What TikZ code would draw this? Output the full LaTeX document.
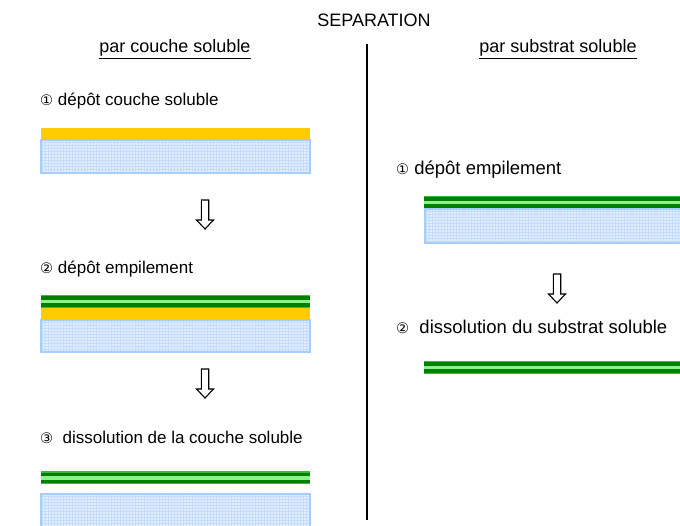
\documentclass[tikz,border=0pt]{standalone}
\usepackage{fontspec}
\setmainfont{Liberation Sans}
\newfontfamily\dv{DejaVu Sans}
\usetikzlibrary{patterns}
\definecolor{yel}{HTML}{FFCC00}
\definecolor{bfill}{HTML}{E2EEFF}
\definecolor{bgrid}{HTML}{C4DDFF}
\definecolor{bedge}{HTML}{A3CEFF}
\definecolor{gmid}{HTML}{3CB83C}
\definecolor{gdark}{HTML}{008000}
\definecolor{glight}{HTML}{8CF08C}
\newcommand{\circnum}[1]{{\dv\fontsize{14.5}{16}\selectfont #1}}
\tikzset{
  lbl/.style={anchor=base west, inner sep=0, font=\fontsize{17}{19}\selectfont},
  rlbl/.style={anchor=base west, inner sep=0, font=\fontsize{18.5}{21}\selectfont},
  head/.style={anchor=base, inner sep=0, font=\fontsize{18}{20}\selectfont},
  hollowarrow/.style={draw=black, line width=1.1pt, fill=white, line join=miter},
}
\newcommand{\mygreenbar}[3]{% x1, x2, ytop
  \fill[gmid] (#1,#3) rectangle (#2,#3+1.5);
  \fill[gdark] (#1,#3+1.5) rectangle (#2,#3+5);
  \fill[glight] (#1,#3+5) rectangle (#2,#3+8.5);
  \fill[gdark] (#1,#3+8.5) rectangle (#2,#3+12);
  \fill[gmid] (#1,#3+12) rectangle (#2,#3+13);
}
\newcommand{\mysubstrate}[4]{% x1, x2, ytop, ybottom
  \fill[bfill] (#1,#3) rectangle (#2,#4);
  \fill[pattern=grid, pattern color=bgrid] (#1,#3) rectangle (#2,#4);
  \draw[bedge, line width=2.2pt] (#1,#3) rectangle (#2,#4);
}
\newcommand{\myhollowdown}[3]{% cx, ytop, name
  \draw[hollowarrow] (#1-3.7,#2) -- (#1+3.7,#2) -- (#1+3.7,#2+20) -- (#1+8.5,#2+20) -- (#1,#2+29) -- (#1-8.5,#2+20) -- (#1-3.7,#2+20) -- cycle;
  \coordinate (#3) at (#1,#2);
}
\begin{document}
\begin{tikzpicture}[x=1pt,y=-1pt]
\useasboundingbox (0,0) rectangle (680,526);
\clip (0,0) rectangle (680,526);
% titles
\node[anchor=base, inner sep=0, font=\fontsize{18}{20}\selectfont] (title) at (374,27) {SEPARATION};
\node[head] (hl) at (175,53) {\underline{par couche soluble}};
\node[head] (hr) at (558,53) {\underline{par substrat soluble}};
% separator
\coordinate (vt) at (367,44);
\coordinate (vb) at (367,520);
\draw[line width=1.5pt] (vt) -- (vb);
% left column
\node[lbl] (l1) at (40,106) {\circnum{①} dépôt couche soluble};
\mysubstrate{41}{310}{140}{173}
\fill[yel] (41,128) rectangle (310,140);
\myhollowdown{205}{200}{a1}
\node[lbl] (l2) at (40,274) {\circnum{②} dépôt empilement};
\mysubstrate{41}{310}{320}{352}
\mygreenbar{41}{310}{295}
\fill[yel] (41,308) rectangle (310,320);
\myhollowdown{205}{369}{a2}
\node[lbl] (l3) at (40,443) {\circnum{③}\ \ dissolution de la couche soluble};
\mygreenbar{41}{310}{471}
\mysubstrate{41}{310}{494}{540}
% right column
\node[rlbl] (r1) at (396,175) {\circnum{①} dépôt empilement};
\mygreenbar{424}{690}{196}
\mysubstrate{425}{690}{209}{243}
\myhollowdown{557}{274}{a3}
\node[rlbl] (r2) at (396,334) {\circnum{②}\ \ dissolution du substrat soluble};
\mygreenbar{424}{690}{361}
\end{tikzpicture}
\end{document}
